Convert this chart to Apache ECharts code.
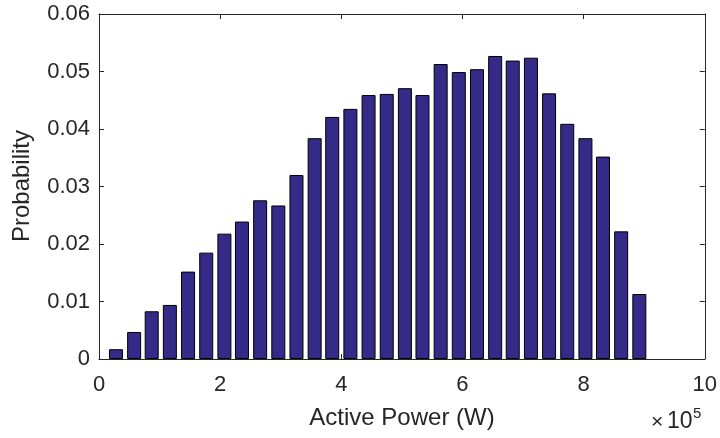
<!DOCTYPE html>
<html>
<head>
<meta charset="utf-8">
<script src="https://cdn.jsdelivr.net/npm/echarts@6/dist/echarts.min.js"></script>
<style>
  html, body { margin: 0; padding: 0; background: #fff; }
  #chart { width: 720px; height: 438px; }
</style>
</head>
<body>
<div id="chart"></div>
<script>
// bin centres, in units of 1e5 W
var binCenters = [0.28, 0.58, 0.87, 1.17, 1.47, 1.77, 2.07, 2.36, 2.66, 2.96,
    3.26, 3.56, 3.85, 4.15, 4.45, 4.75, 5.05, 5.34, 5.64, 5.94,
    6.24, 6.54, 6.83, 7.13, 7.43, 7.73, 8.03, 8.32, 8.62, 8.92];
var probability = [0.0017, 0.0047, 0.0083, 0.0094, 0.0152, 0.0185, 0.0218, 0.0239, 0.0276, 0.0267,
    0.0320, 0.0384, 0.0421, 0.0435, 0.0459, 0.0461, 0.0471, 0.0459, 0.0513, 0.0499,
    0.0504, 0.0527, 0.0519, 0.0524, 0.0462, 0.0409, 0.0384, 0.0352, 0.0222, 0.0113];
var xTicks = [0, 2, 4, 6, 8, 10];
var yTicks = [0, 0.01, 0.02, 0.03, 0.04, 0.05, 0.06];

var font = 'Liberation Sans';
var axisCol = '#262626';

var barData = [];
for (var i = 0; i < binCenters.length; i++) {
    barData.push([binCenters[i], probability[i]]);
}

function boxAxis(extra) {
    var a = {
        axisLine: { show: true, onZero: false, lineStyle: { color: axisCol, width: 1 } },
        axisTick: { show: true, inside: true, length: 5, lineStyle: { color: axisCol } },
        splitLine: { show: false }
    };
    for (var k in extra) a[k] = extra[k];
    return a;
}

var myChart = echarts.init(document.getElementById('chart'));
myChart.setOption({
    animation: false,
    grid: { left: 99, right: 15, top: 14, bottom: 79 },
    xAxis: [
        boxAxis({
            type: 'value', min: 0, max: 10, interval: 2,
            axisLabel: { color: axisCol, fontFamily: font, fontSize: 22, margin: 15,
                formatter: function (v) { return xTicks.indexOf(v) >= 0 ? String(v) : ''; } }
        }),
        boxAxis({
            type: 'value', position: 'top', min: 0, max: 10, interval: 2,
            axisLabel: { show: false }
        })
    ],
    yAxis: [
        boxAxis({
            type: 'value', min: 0, max: 0.06, interval: 0.01,
            axisLabel: { color: axisCol, fontFamily: font, fontSize: 22, margin: 9,
                formatter: function (v) {
                    var idx = Math.round(v * 100);
                    return idx === 0 ? '0' : yTicks[idx].toFixed(2);
                } }
        }),
        boxAxis({
            type: 'value', position: 'right', min: 0, max: 0.06, interval: 0.01,
            axisLabel: { show: false }
        })
    ],
    series: [{
        type: 'bar',
        data: barData,
        barWidth: 14,
        itemStyle: { color: '#352a87', borderColor: '#000', borderWidth: 1 }
    }],
    graphic: [
        { type: 'text', x: 402, y: 406, z: 10,
          style: { text: 'Active Power (W)', font: '24px ' + font, fill: axisCol, textAlign: 'center' } },
        { type: 'text', x: 22, y: 186, rotation: Math.PI / 2, z: 10,
          style: { text: 'Probability', font: '24px ' + font, fill: axisCol,
                   textAlign: 'center', textVerticalAlign: 'middle' } },
        { type: 'text', x: 651, y: 412, z: 10,
          style: { text: '\u00d7', font: '21px ' + font, fill: axisCol } },
        { type: 'text', x: 667, y: 410, z: 10,
          style: { text: '10', font: '23px ' + font, fill: axisCol } },
        { type: 'text', x: 693, y: 406, z: 10,
          style: { text: '5', font: '15px ' + font, fill: axisCol } }
    ]
});
</script>
</body>
</html>
